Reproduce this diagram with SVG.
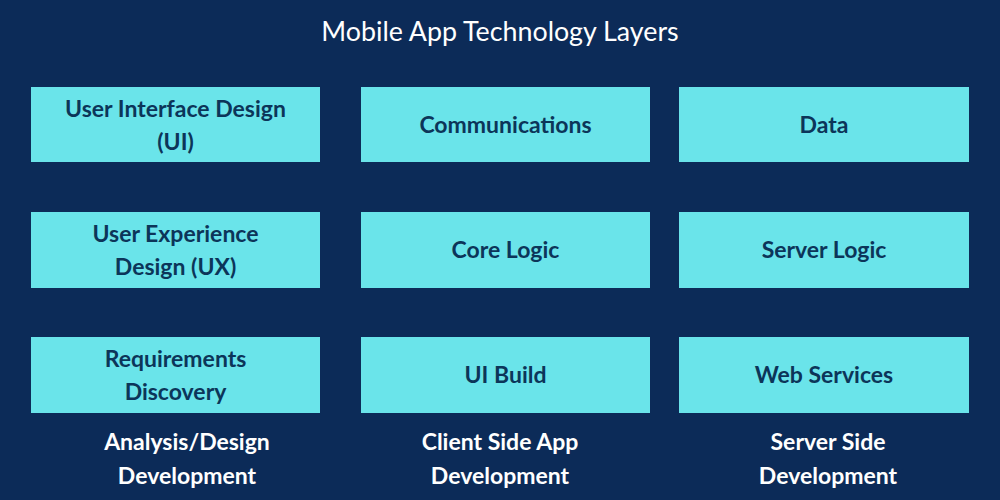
<svg xmlns="http://www.w3.org/2000/svg" width="1000" height="500" viewBox="0 0 1000 500">
<style>
.bg{fill:#0c2b58}
.box{fill:#6ae4ea}
.t{font-family:Lato,"Open Sans","Liberation Sans",sans-serif;font-weight:bold;font-size:23px;fill:#0c3559;text-anchor:middle}
.c{font-family:Lato,"Open Sans","Liberation Sans",sans-serif;font-weight:bold;font-size:23px;fill:#ffffff;text-anchor:middle}
.title{font-family:Lato,"Open Sans","Liberation Sans",sans-serif;font-size:26.8px;fill:#ffffff;text-anchor:middle}
</style>
<rect class="bg" x="0" y="0" width="1000" height="500"/>
<text class="title" x="500" y="41">Mobile App Technology Layers</text>
<g id="connectors"></g>
<g id="ui-design"><rect class="box" x="31" y="87" width="289" height="75"/><text class="t" x="175.5" y="117">User Interface Design</text><text class="t" x="175.5" y="150">(UI)</text></g>
<g id="communications"><rect class="box" x="361" y="87" width="289" height="75"/><text class="t" x="505.5" y="133">Communications</text></g>
<g id="data"><rect class="box" x="679" y="87" width="290" height="75"/><text class="t" x="824" y="133">Data</text></g>
<g id="ux-design"><rect class="box" x="31" y="212" width="289" height="76"/><text class="t" x="175.5" y="242">User Experience</text><text class="t" x="175.5" y="275">Design (UX)</text></g>
<g id="core-logic"><rect class="box" x="361" y="212" width="289" height="76"/><text class="t" x="505.5" y="258">Core Logic</text></g>
<g id="server-logic"><rect class="box" x="679" y="212" width="290" height="76"/><text class="t" x="824" y="258">Server Logic</text></g>
<g id="requirements"><rect class="box" x="31" y="337" width="289" height="76"/><text class="t" x="175.5" y="367">Requirements</text><text class="t" x="175.5" y="400">Discovery</text></g>
<g id="ui-build"><rect class="box" x="361" y="337" width="289" height="76"/><text class="t" x="505.5" y="383">UI Build</text></g>
<g id="web-services"><rect class="box" x="679" y="337" width="290" height="76"/><text class="t" x="824" y="383">Web Services</text></g>
<g id="col1-label"><text class="c" x="187" y="450">Analysis/Design</text><text class="c" x="187" y="484">Development</text></g>
<g id="col2-label"><text class="c" x="500" y="450">Client Side App</text><text class="c" x="500" y="484">Development</text></g>
<g id="col3-label"><text class="c" x="828" y="450">Server Side</text><text class="c" x="828" y="484">Development</text></g>
</svg>
